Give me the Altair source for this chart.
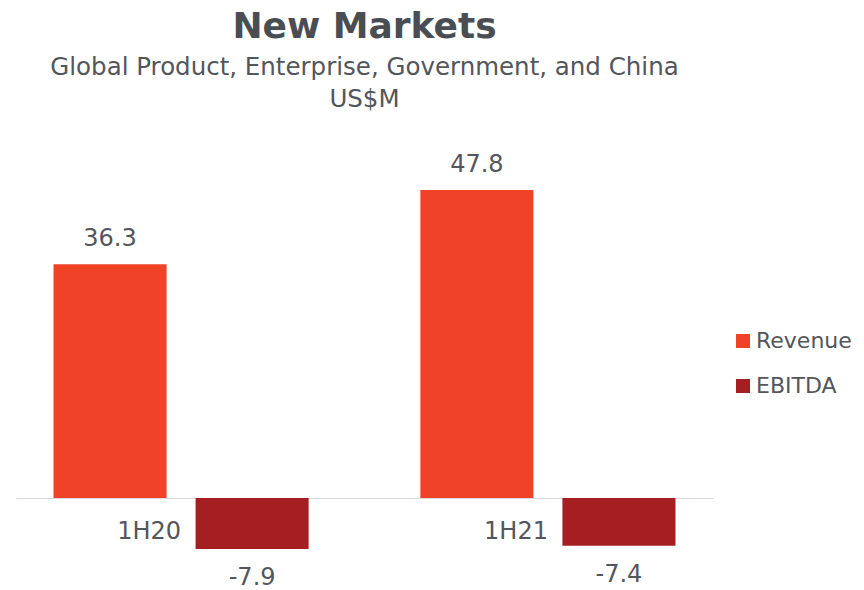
import altair as alt
import pandas as pd

periods = ["1H20", "1H20", "1H21", "1H21"]
series = ["Revenue", "EBITDA", "Revenue", "EBITDA"]
values = [36.3, -7.9, 47.8, -7.4]

df = pd.DataFrame({"period": periods, "series": series, "value": values})
df["label"] = df["value"].map(lambda v: f"{v:.1f}")

FONT = "DejaVu Sans"
GRAY = "#53565a"
order = ["Revenue", "EBITDA"]

x = alt.X("period:N", sort=["1H20", "1H21"],
          scale=alt.Scale(paddingInner=0.2, paddingOuter=0.05),
          axis=alt.Axis(title=None, orient="bottom", offset=-87, ticks=False,
                        domainColor="#d9d9d9", labelAlign="right", labelPadding=21,
                        labelFontSize=24, labelColor=GRAY, labelFont=FONT, labelAngle=0))
xo = alt.XOffset("series:N", sort=order,
                 scale=alt.Scale(paddingInner=0.204, paddingOuter=0.135))
y = alt.Y("value:Q", scale=alt.Scale(domain=[-13.5, 52], nice=False, zero=True), axis=None)

bars = alt.Chart(df).mark_bar().encode(
    x=x, xOffset=xo, y=y,
    color=alt.Color("series:N", sort=order,
                    scale=alt.Scale(domain=order, range=["#ef4227", "#a51e22"]),
                    legend=alt.Legend(title=None, orient="none", legendX=716, legendY=167,
                                      symbolType="square", symbolSize=196, symbolStrokeWidth=0,
                                      labelFontSize=22, labelColor=GRAY, labelFont=FONT,
                                      rowPadding=23, labelOffset=2)),
)

pos_text = alt.Chart(df).transform_filter("datum.value >= 0").mark_text(
    baseline="alphabetic", dy=-18, fontSize=24, color=GRAY, font=FONT
).encode(x=x, xOffset=xo, y=y, text="label:N")

neg_text = alt.Chart(df).transform_filter("datum.value < 0").mark_text(
    baseline="top", dy=17, fontSize=24, color=GRAY, font=FONT
).encode(x=x, xOffset=xo, y=y, text="label:N")

chart = alt.layer(bars, pos_text, neg_text).properties(
    width=697, height=422,
    autosize=alt.AutoSizeParams(type="none"),
    padding={"left": 8, "top": 155, "right": 143, "bottom": 10},
    title=alt.TitleParams(
        text="New Markets",
        subtitle=["Global Product, Enterprise, Government, and China", "US$M"],
        anchor="middle", fontSize=36, fontWeight="bold", color="#4a4d52", font=FONT,
        subtitleFontSize=24.5, subtitleColor=GRAY, subtitleFont=FONT,
        subtitleLineHeight=32, subtitlePadding=10, offset=34, dy=-7,
    ),
).configure_view(stroke=None)

chart.save("out.html", embed_options={"renderer": "svg", "actions": False})
